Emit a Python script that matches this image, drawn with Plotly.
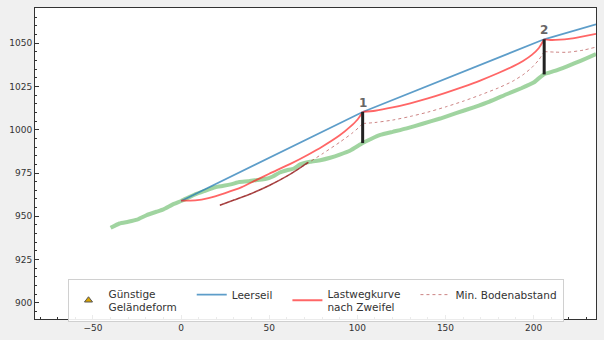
import plotly.graph_objects as go

# ---- data ----
terrain_x = [-40, -35, -30, -25, -19.5, -14, -10, -4.4, 0, 8, 13, 19.3, 24, 28.8, 33, 38.2, 43, 47.7, 52, 56, 60, 64, 67.5, 73.2, 79, 84.6, 90, 96, 103,
             108, 113, 120, 128, 137, 147, 156, 166, 175, 185, 193, 200, 205.7, 212, 219, 227, 235.4]
terrain_y = [943.3, 945.8, 946.8, 948.0, 950.7, 952.6, 954.0, 957.0, 958.8, 962.6, 964.5, 966.8, 967.6, 968.6, 969.8, 970.2, 971.0, 971.5, 973.0, 975.3, 976.6, 977.6, 980.0, 981.5, 982.4, 983.8, 985.6, 988.0, 992.3,
             994.8, 997.0, 998.8, 1000.8, 1003.5, 1006.5, 1009.6, 1013.0, 1016.3, 1020.7, 1024.0, 1027.3, 1032.0, 1034.0, 1036.7, 1040.0, 1043.8]

leerseil_x = [0, 103, 206, 235.4]
leerseil_y = [958.8, 1010.3, 1052.3, 1061.0]

pylon_x = [103, 206]
pylon_bottom = [992.3, 1032.0]
pylon_top = [1010.3, 1052.3]
pylon_labels = ["1", "2"]

last1_x = [0, 8, 15.5, 25, 34.4, 42, 50, 62, 72, 80, 90, 96, 100, 103]
last1_y = [959.0, 959.2, 960.5, 963.4, 966.8, 970.6, 974.6, 980.3, 985.6, 990.2, 996.8, 1001.8, 1005.8, 1010.3]
last2_x = [103, 110, 120, 130, 140, 150, 160, 170, 180, 188, 194, 199, 203, 206]
last2_y = [1010.3, 1011.0, 1012.9, 1015.3, 1018.1, 1021.3, 1024.8, 1028.6, 1032.8, 1036.5, 1039.8, 1043.3, 1047.3, 1052.3]
last3_x = [206, 210, 215, 220, 226, 235.4]
last3_y = [1052.3, 1051.9, 1052.1, 1052.6, 1053.6, 1055.4]

min1_x = [22, 30, 40, 50, 60, 70, 80, 90, 97, 101, 103]
min1_y = [956.4, 959.4, 963.2, 967.8, 973.2, 979.5, 986.0, 992.8, 998.0, 1001.5, 1003.6]
min2_x = [103, 110, 120, 130, 140, 150, 160, 170, 180, 188, 194, 199, 203, 206]
min2_y = [1003.6, 1004.2, 1005.6, 1007.7, 1010.2, 1013.2, 1016.5, 1020.2, 1024.2, 1028.0, 1031.8, 1036.0, 1040.5, 1045.2]
min3_x = [206, 212, 219, 228, 235.4]
min3_y = [1045.2, 1044.9, 1044.8, 1046.0, 1047.8]

# part of min. clearance below terrain (drawn solid)
konflikt_x = [22, 30, 40, 50, 60, 66, 72]
konflikt_y = [956.4, 959.4, 963.2, 967.8, 973.2, 977.0, 981.2]

# no favourable terrain points in this chart (legend entry only)
guenstig_x = [None]
guenstig_y = [None]

x_ticks = [-50, 0, 50, 100, 150, 200]
y_ticks = [900, 925, 950, 975, 1000, 1025, 1050]

# ---- styles ----
C_GREEN = "rgba(44,160,44,0.45)"
C_BLUE = "rgba(31,119,180,0.72)"
C_RED = "rgba(255,30,30,0.68)"
C_MIN = "rgba(170,50,50,0.6)"
C_DARK = "rgba(150,30,30,0.8)"
PAD = "\u00a0\u00a0\u00a0"

fig = go.Figure()

fig.add_trace(go.Scatter(x=terrain_x, y=terrain_y, mode="lines",
                         line=dict(color=C_GREEN, width=4, shape="spline", smoothing=0.4),
                         showlegend=False, hoverinfo="skip"))

fig.add_trace(go.Scatter(x=guenstig_x, y=guenstig_y, mode="markers", name="Günstige<br>Geländeform" + PAD,
                         marker=dict(symbol="triangle-up", size=7, color="#d9a400",
                                     line=dict(color="#555", width=1)),
                         showlegend=True, legendrank=1))

fig.add_trace(go.Scatter(x=leerseil_x, y=leerseil_y, mode="lines", name="Leerseil" + PAD,
                         line=dict(color=C_BLUE, width=1.7), legendrank=2))

for i, (xs, ys) in enumerate([(last1_x, last1_y), (last2_x, last2_y), (last3_x, last3_y)]):
    fig.add_trace(go.Scatter(x=xs, y=ys, mode="lines", name="Lastwegkurve" + PAD + "<br>nach Zweifel",
                             line=dict(color=C_RED, width=1.8, shape="spline", smoothing=0.6),
                             showlegend=(i == 0), legendgroup="last", legendrank=3))

for i, (xs, ys) in enumerate([(min1_x, min1_y), (min2_x, min2_y), (min3_x, min3_y)]):
    fig.add_trace(go.Scatter(x=xs, y=ys, mode="lines", name="Min. Bodenabstand",
                             line=dict(color=C_MIN, width=1, dash="dot", shape="spline", smoothing=0.6),
                             showlegend=(i == 0), legendgroup="min", legendrank=4))

fig.add_trace(go.Scatter(x=konflikt_x, y=konflikt_y, mode="lines",
                         line=dict(color=C_DARK, width=1.6, shape="spline", smoothing=0.6),
                         showlegend=False, hoverinfo="skip"))

for px, pb, pt, lab in zip(pylon_x, pylon_bottom, pylon_top, pylon_labels):
    fig.add_trace(go.Scatter(x=[px, px], y=[pb, pt], mode="lines",
                             line=dict(color="#222", width=3), showlegend=False, hoverinfo="skip"))
    fig.add_annotation(x=px, y=pt, text="<b>" + lab + "</b>", showarrow=False,
                       yanchor="bottom", yshift=0,
                       font=dict(family="DejaVu Sans", size=12, color="#666"))

fig.update_layout(
    width=604, height=340,
    margin=dict(l=35, r=8, t=7, b=16),
    paper_bgcolor="#f0f0f0", plot_bgcolor="white",
    font=dict(family="DejaVu Sans", size=9, color="#333"),
    legend=dict(orientation="h", x=0.5, xanchor="center", y=-0.01, yanchor="bottom",
                bgcolor="rgba(255,255,255,0.9)", bordercolor="#d0d0d0", borderwidth=1,
                font=dict(family="DejaVu Sans", size=10.5, color="#333"),
                itemwidth=30, tracegroupgap=0, traceorder="normal"),
)
fig.update_xaxes(range=[-82.9, 235.4], tickvals=x_ticks, ticktext=["\u2212" + str(-v) if v < 0 else str(v) for v in x_ticks],
                 ticks="inside", ticklen=4, tickcolor="#333", showgrid=False, zeroline=False,
                 showline=True, linecolor="#333", linewidth=1, mirror=True,
                 minor=dict(dtick=10, tick0=0, ticks="inside", ticklen=2, tickcolor="#333"))
fig.update_yaxes(range=[890.6, 1070.4], tickvals=y_ticks,
                 ticks="inside", ticklen=4, tickcolor="#333", showgrid=False, zeroline=False,
                 showline=True, linecolor="#333", linewidth=1, mirror=True,
                 minor=dict(dtick=5, tick0=0, ticks="inside", ticklen=2, tickcolor="#333"))

fig.write_html("out.html")
